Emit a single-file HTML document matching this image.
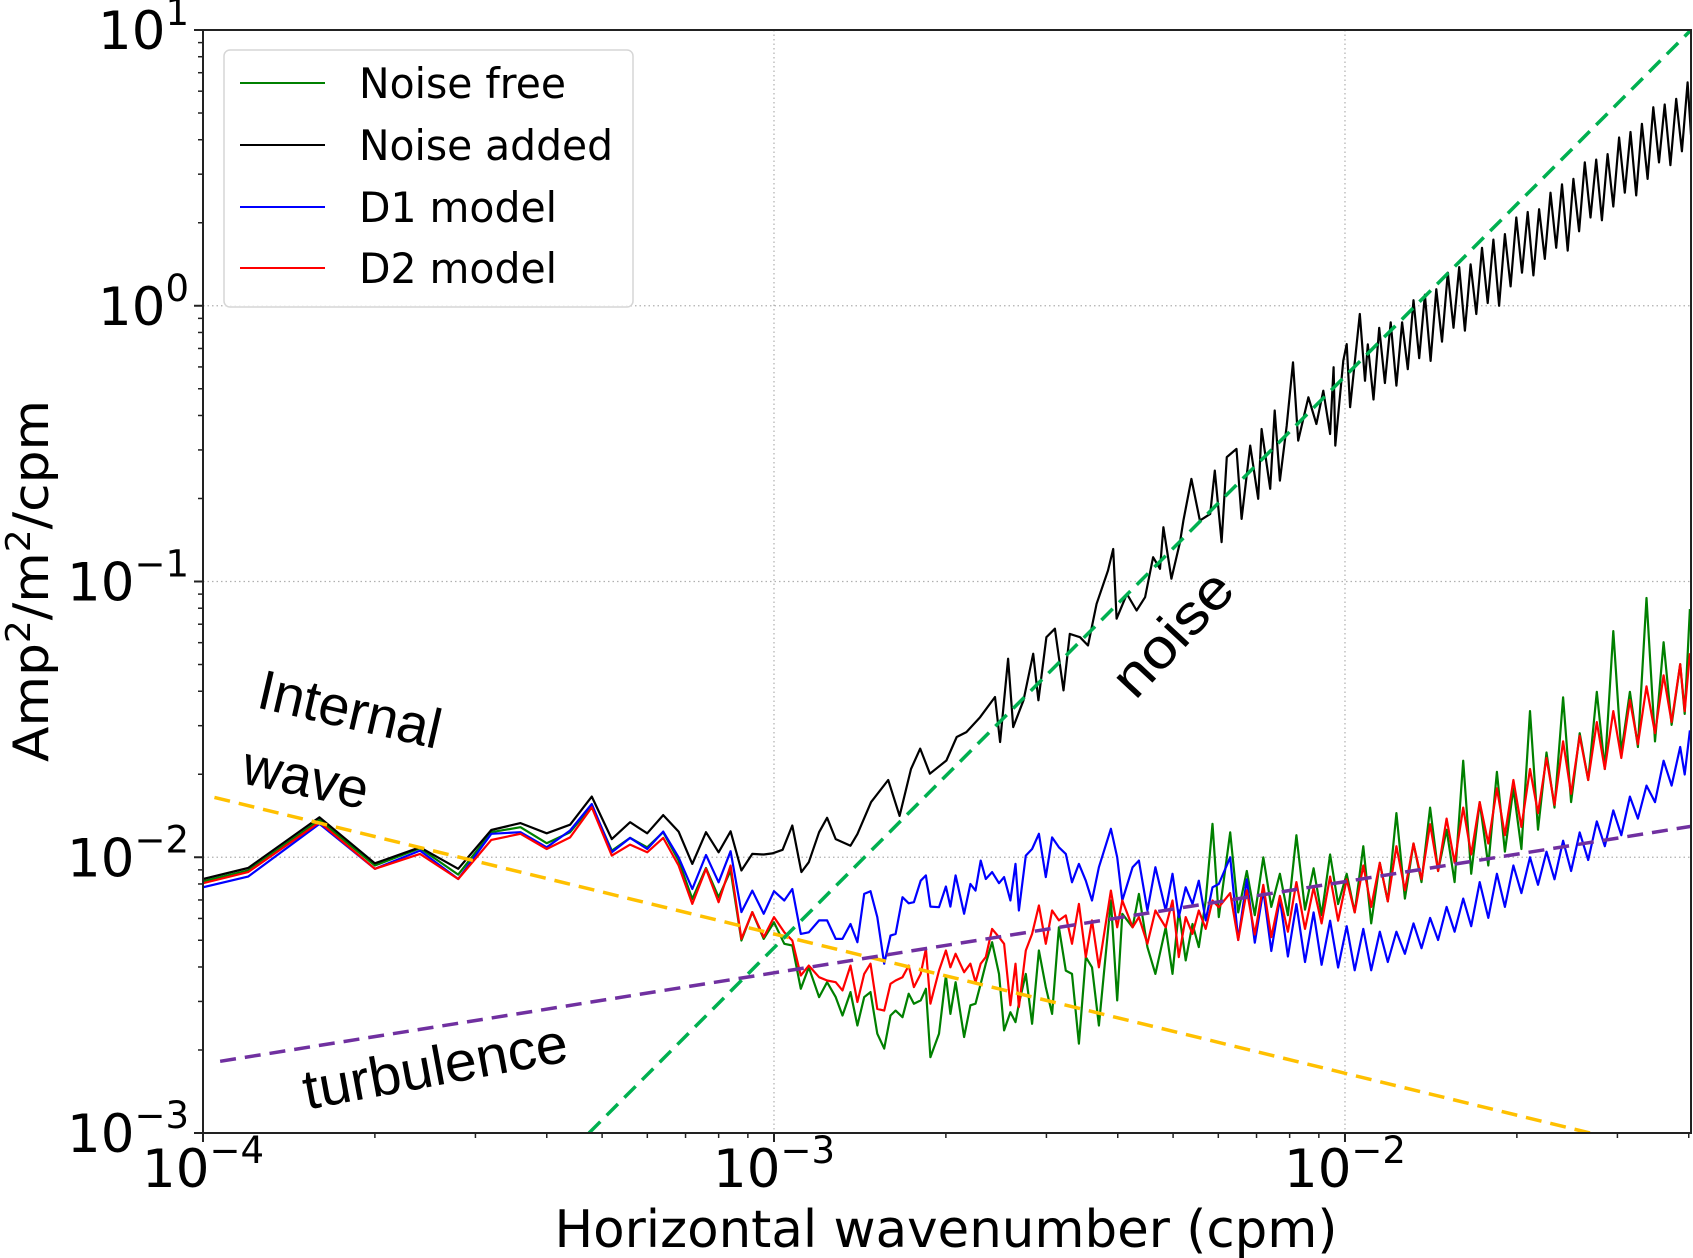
<!DOCTYPE html>
<html><head><meta charset="utf-8"><title>Wavenumber spectra</title>
<style>
html,body{margin:0;padding:0;background:#fff;}
svg{display:block;}
.dv{font-family:"DejaVu Sans","Liberation Sans",sans-serif;}
.ar{font-family:"Liberation Sans",Arial,sans-serif;}
</style></head>
<body>
<svg id="chart" width="1693" height="1258" viewBox="0 0 1693 1258" xmlns="http://www.w3.org/2000/svg">
<defs><clipPath id="plotclip"><rect x="203" y="30" width="1488" height="1103"/></clipPath></defs>
<rect x="0" y="0" width="1693" height="1258" fill="#fff"/>
<g id="grid"></g>
<g id="series" clip-path="url(#plotclip)"></g>
<g id="refs" clip-path="url(#plotclip)"></g>
<g id="axes"></g>
<g id="ticks"></g>

<text class="dv" transform="translate(48,581) rotate(-90)" text-anchor="middle" font-size="49" textLength="362" lengthAdjust="spacingAndGlyphs">Amp<tspan font-size="34" dy="-18">2</tspan><tspan dy="18">/m</tspan><tspan font-size="34" dy="-18">2</tspan><tspan dy="18">/cpm</tspan></text>
<text class="dv" x="946" y="1247" text-anchor="middle" font-size="52" textLength="783" lengthAdjust="spacingAndGlyphs">Horizontal wavenumber (cpm)</text>

<text class="ar" transform="translate(350,709) rotate(13)" text-anchor="middle" dominant-baseline="central" font-size="56" textLength="186" lengthAdjust="spacingAndGlyphs">Internal</text>
<text class="ar" transform="translate(306,777) rotate(12)" text-anchor="middle" dominant-baseline="central" font-size="56" textLength="127" lengthAdjust="spacingAndGlyphs">wave</text>
<text class="ar" transform="translate(435,1066) rotate(-10.5)" text-anchor="middle" dominant-baseline="central" font-size="56" textLength="268" lengthAdjust="spacingAndGlyphs">turbulence</text>
<text class="ar" transform="translate(1172,633) rotate(-47)" text-anchor="middle" dominant-baseline="central" font-size="56" textLength="150" lengthAdjust="spacingAndGlyphs">noise</text>

<g>
<rect x="224" y="50" width="409" height="257" rx="6" fill="#fff" fill-opacity="0.85" stroke="#d6d6d6" stroke-width="1.5"/>
<line x1="240" y1="83" x2="325" y2="83" stroke="#008000" stroke-width="2"/>
<text class="dv" x="359" y="98" font-size="42" textLength="207" lengthAdjust="spacingAndGlyphs">Noise free</text>
<line x1="240" y1="145" x2="325" y2="145" stroke="#000" stroke-width="2"/>
<text class="dv" x="359" y="160" font-size="42" textLength="254" lengthAdjust="spacingAndGlyphs">Noise added</text>
<line x1="240" y1="207" x2="325" y2="207" stroke="#0000ff" stroke-width="2"/>
<text class="dv" x="359" y="222" font-size="42" textLength="198" lengthAdjust="spacingAndGlyphs">D1 model</text>
<line x1="240" y1="268" x2="325" y2="268" stroke="#ff0000" stroke-width="2"/>
<text class="dv" x="359" y="283" font-size="42" textLength="198" lengthAdjust="spacingAndGlyphs">D2 model</text>
</g>
</svg>
<script>
// All values are log10 (wavenumber in cpm, amplitude in Amp^2/m^2/cpm)
const xTickExps = [-4, -3, -2];
const yTickExps = [1, 0, -1, -2, -3];
const xTickLabels = ["\u22124", "\u22123", "\u22122"];
const yTickLabels = ["1", "0", "\u22121", "\u22122", "\u22123"];

const kLow = [-4,-3.921,-3.796,-3.699,-3.620,-3.553,-3.495,-3.444,-3.398,-3.357,-3.319,-3.284,-3.252,-3.222,-3.194,-3.167,-3.143,-3.119,-3.097];
const kMid = [-3.076,-3.057,-3.038,-3.018,-3.0,-2.982,-2.968,-2.953,-2.939,-2.921,-2.907,-2.892,-2.880,-2.866,-2.854,-2.842,-2.831,-2.819,-2.807,-2.796,-2.787,-2.775,-2.764,-2.755,-2.743,-2.734,-2.726,-2.711,-2.699,-2.691,-2.682,-2.667,-2.656,-2.647,-2.638,-2.629,-2.618,-2.606,-2.597,-2.586,-2.577,-2.571,-2.559,-2.548,-2.536,-2.524,-2.513,-2.501,-2.489,-2.478,-2.466,-2.454,-2.443,-2.431,-2.410,-2.399,-2.390,-2.372,-2.361,-2.346,-2.332,-2.314,-2.302,-2.291,-2.279,-2.267,-2.256,-2.244,-2.232,-2.221];
const kHigh = [-2.201,-2.187,-2.172,-2.158,-2.143,-2.129,-2.114,-2.100,-2.085,-2.070,-2.055,-2.041,-2.026,-2.012,-1.997,-1.983,-1.968,-1.954,-1.939,-1.925,-1.910,-1.895,-1.880,-1.866,-1.851,-1.837,-1.822,-1.808,-1.793,-1.779,-1.764,-1.749,-1.734,-1.720,-1.705,-1.691,-1.676,-1.662,-1.647,-1.633,-1.618,-1.604,-1.589,-1.574,-1.559,-1.545,-1.530,-1.516,-1.501,-1.487,-1.472,-1.457,-1.442,-1.428,-1.413,-1.405,-1.396];

const greenLow = [-2.087,-2.048,-1.865,-2.030,-1.967,-2.063,-1.909,-1.891,-1.949,-1.909,-1.813,-1.976,-1.930,-1.964,-1.909,-2.012,-2.151,-2.039,-2.145];
const greenMid = [-2.048,-2.302,-2.199,-2.296,-2.236,-2.314,-2.320,-2.477,-2.399,-2.507,-2.453,-2.507,-2.574,-2.489,-2.610,-2.507,-2.489,-2.640,-2.694,-2.574,-2.556,-2.580,-2.495,-2.531,-2.519,-2.477,-2.725,-2.640,-2.429,-2.568,-2.453,-2.652,-2.537,-2.531,-2.459,-2.386,-2.308,-2.423,-2.628,-2.562,-2.598,-2.531,-2.423,-2.604,-2.338,-2.471,-2.568,-2.254,-2.411,-2.423,-2.676,-2.362,-2.399,-2.610,-2.157,-2.519,-2.205,-2.254,-2.133,-2.326,-2.423,-2.254,-2.423,-2.193,-2.374,-2.242,-2.326,-2.157,-1.879,-2.217];
const greenHigh = [-1.91,-2.20,-2.05,-2.21,-2.00,-2.18,-2.06,-2.21,-1.92,-2.19,-2.04,-2.21,-1.99,-2.17,-2.06,-2.20,-1.96,-2.24,-2.02,-2.16,-1.84,-2.15,-1.95,-2.09,-1.82,-2.05,-1.90,-2.09,-1.65,-2.06,-1.80,-2.03,-1.69,-1.98,-1.75,-1.97,-1.47,-1.90,-1.62,-1.82,-1.42,-1.80,-1.55,-1.72,-1.40,-1.68,-1.18,-1.62,-1.40,-1.60,-1.06,-1.58,-1.22,-1.52,-1.30,-1.48,-1.10];

const blueLow = [-2.109,-2.070,-1.879,-2.042,-1.976,-2.079,-1.915,-1.909,-1.964,-1.903,-1.807,-1.982,-1.930,-1.970,-1.907,-2.0,-2.115,-1.992,-2.091];
const blueMid = [-1.978,-2.199,-2.121,-2.205,-2.123,-2.157,-2.115,-2.278,-2.272,-2.229,-2.229,-2.296,-2.296,-2.242,-2.308,-2.133,-2.123,-2.217,-2.386,-2.284,-2.278,-2.145,-2.167,-2.163,-2.085,-2.066,-2.179,-2.181,-2.106,-2.179,-2.066,-2.205,-2.097,-2.121,-2.012,-2.079,-2.054,-2.094,-2.072,-2.157,-2.024,-2.193,-1.994,-1.970,-1.915,-2.072,-1.928,-1.964,-1.988,-2.091,-2.024,-2.085,-2.157,-2.036,-1.897,-2.0,-2.157,-2.036,-2.012,-2.193,-2.036,-2.193,-2.060,-2.217,-2.109,-2.169,-2.085,-2.229,-2.109,-2.097];
const blueHigh = [-2.00,-2.30,-2.08,-2.31,-2.12,-2.34,-2.15,-2.36,-2.17,-2.38,-2.20,-2.39,-2.23,-2.40,-2.25,-2.41,-2.26,-2.41,-2.27,-2.38,-2.27,-2.35,-2.24,-2.33,-2.22,-2.30,-2.18,-2.27,-2.15,-2.25,-2.09,-2.22,-2.06,-2.18,-2.03,-2.13,-2.00,-2.10,-1.98,-2.08,-1.94,-2.05,-1.91,-2.01,-1.87,-1.96,-1.83,-1.92,-1.78,-1.86,-1.74,-1.80,-1.65,-1.74,-1.60,-1.70,-1.54];

const redLow = [-2.094,-2.054,-1.873,-2.042,-1.988,-2.079,-1.937,-1.915,-1.970,-1.928,-1.819,-1.994,-1.954,-1.982,-1.930,-2.030,-2.169,-2.042,-2.163];
const redMid = [-2.030,-2.296,-2.199,-2.290,-2.217,-2.272,-2.302,-2.429,-2.393,-2.435,-2.447,-2.453,-2.483,-2.393,-2.525,-2.423,-2.386,-2.550,-2.556,-2.459,-2.447,-2.435,-2.393,-2.471,-2.423,-2.332,-2.531,-2.411,-2.338,-2.399,-2.350,-2.417,-2.386,-2.453,-2.386,-2.362,-2.260,-2.290,-2.314,-2.537,-2.386,-2.543,-2.338,-2.278,-2.175,-2.314,-2.193,-2.229,-2.211,-2.314,-2.169,-2.362,-2.229,-2.399,-2.121,-2.254,-2.157,-2.254,-2.217,-2.314,-2.193,-2.254,-2.157,-2.362,-2.217,-2.278,-2.193,-2.260,-2.157,-2.181];
const redHigh = [-2.13,-2.30,-2.12,-2.28,-2.10,-2.29,-2.14,-2.27,-2.09,-2.26,-2.11,-2.24,-2.07,-2.23,-2.08,-2.20,-2.03,-2.18,-2.02,-2.16,-1.96,-2.12,-1.95,-2.08,-1.88,-2.05,-1.86,-2.02,-1.82,-1.99,-1.80,-1.95,-1.75,-1.92,-1.72,-1.89,-1.68,-1.84,-1.64,-1.81,-1.58,-1.77,-1.56,-1.72,-1.51,-1.68,-1.47,-1.64,-1.43,-1.59,-1.38,-1.55,-1.34,-1.51,-1.30,-1.47,-1.26];

const blackLow = [-2.079,-2.039,-1.855,-2.022,-1.964,-2.042,-1.901,-1.876,-1.913,-1.882,-1.780,-1.934,-1.873,-1.913,-1.847,-1.907,-2.024,-1.909,-1.982];
const blackMidK = [-3.076,-3.057,-3.038,-3.018,-3.003,-2.985,-2.968,-2.952,-2.939,-2.921,-2.907,-2.892,-2.866,-2.854,-2.83,-2.80,-2.78,-2.76,-2.744,-2.727,-2.698,-2.680,-2.663,-2.639,-2.613,-2.604,-2.590,-2.581,-2.563,-2.546,-2.537,-2.523,-2.508,-2.493,-2.482,-2.464,-2.450,-2.435,-2.415,-2.406,-2.400,-2.382,-2.365,-2.350,-2.336,-2.324,-2.318,-2.304,-2.289,-2.283,-2.269,-2.254,-2.236,-2.228,-2.216,-2.207,-2.190,-2.181,-2.166,-2.152,-2.146,-2.131,-2.123,-2.114,-2.102,-2.091,-2.082,-2.064,-2.050,-2.038,-2.026,-2.020,-2.017,-2.003,-1.997,-1.991,-1.974,-1.965];
const blackMid = [-1.906,-2.048,-1.988,-1.990,-1.986,-1.973,-1.885,-2.054,-2.018,-1.909,-1.857,-1.934,-1.958,-1.916,-1.80,-1.72,-1.85,-1.68,-1.606,-1.697,-1.649,-1.564,-1.546,-1.492,-1.419,-1.582,-1.280,-1.528,-1.431,-1.262,-1.431,-1.202,-1.171,-1.395,-1.190,-1.202,-1.232,-1.081,-0.960,-0.882,-1.135,-1.045,-1.105,-1.057,-0.912,-0.954,-0.803,-0.990,-0.857,-0.779,-0.628,-0.779,-0.755,-0.598,-0.857,-0.549,-0.519,-0.773,-0.507,-0.700,-0.447,-0.664,-0.380,-0.634,-0.435,-0.205,-0.489,-0.332,-0.429,-0.308,-0.465,-0.223,-0.507,-0.199,-0.139,-0.368,-0.030,-0.272];
const blackHighK = [-1.96,-1.95,-1.94,-1.93,-1.92,-1.91,-1.90,-1.89,-1.88,-1.87,-1.86,-1.85,-1.84,-1.83,-1.82,-1.81,-1.80,-1.79,-1.78,-1.77,-1.76,-1.75,-1.74,-1.73,-1.72,-1.71,-1.70,-1.69,-1.68,-1.67,-1.66,-1.65,-1.64,-1.63,-1.62,-1.61,-1.60,-1.59,-1.58,-1.57,-1.56,-1.55,-1.54,-1.53,-1.52,-1.51,-1.50,-1.49,-1.48,-1.47,-1.46,-1.45,-1.44,-1.43,-1.42,-1.41,-1.40,-1.394];
const blackHigh = [-0.14,-0.34,-0.08,-0.28,-0.06,-0.29,-0.06,-0.23,0.02,-0.19,0.04,-0.20,0.06,-0.13,0.12,-0.08,0.14,-0.09,0.15,-0.03,0.21,0.01,0.24,0.00,0.26,0.07,0.32,0.12,0.34,0.11,0.35,0.17,0.41,0.21,0.44,0.20,0.46,0.27,0.52,0.32,0.53,0.31,0.55,0.36,0.61,0.41,0.63,0.40,0.66,0.46,0.72,0.52,0.73,0.51,0.75,0.56,0.81,0.62];

// reference power laws: [logk start, logk end], [logA start, logA end]
const noiseLineK = [-3.324, -1.394], noiseLineV = [-3.0, 1.0];
const iwLineK = [-3.98, -1.571], iwLineV = [-1.783, -3.0];
const turbLineK = [-3.97, -1.394], turbLineV = [-2.74, -1.888];

const NS = "http://www.w3.org/2000/svg";
const X0 = 203, X1 = 1691, Y0 = 30, Y1 = 1133;
const xmin = -4, xmax = -1.394, ymin = -3, ymax = 1;
function sx(l){ return X0 + (l - xmin) / (xmax - xmin) * (X1 - X0); }
function sy(v){ return Y0 + (ymax - v) / (ymax - ymin) * (Y1 - Y0); }
function mk(tag, attrs, parent){
  const e = document.createElementNS(NS, tag);
  for (const k in attrs) e.setAttribute(k, attrs[k]);
  parent.appendChild(e); return e;
}
const grid = document.getElementById('grid');
const series = document.getElementById('series');
const refs = document.getElementById('refs');
const axes = document.getElementById('axes');
const ticks = document.getElementById('ticks');

xTickExps.forEach(e => {
  const g = mk('line', {x1: sx(e), x2: sx(e), y1: Y0, y2: Y1, stroke: '#b0b0b0', 'stroke-width': 1.2, 'stroke-dasharray': '1.5 3'}, grid);
  
  
});
yTickExps.forEach(e => {
  const g = mk('line', {x1: X0, x2: X1, y1: sy(e), y2: sy(e), stroke: '#b0b0b0', 'stroke-width': 1.2, 'stroke-dasharray': '1.5 3'}, grid);
  
  
});

function drawSeries(ks, vs, color, name){
  let d = '';
  for (let i = 0; i < ks.length; i++) d += (i ? 'L' : 'M') + sx(ks[i]).toFixed(1) + ' ' + sy(vs[i]).toFixed(1);
  const p = mk('path', {d: d, fill: 'none', stroke: color, 'stroke-width': 2.2, 'stroke-linejoin': 'round'}, series);
  
  
}
drawSeries(kLow.concat(kMid, kHigh), greenLow.concat(greenMid, greenHigh), '#008000', 'noise-free-line');
drawSeries(kLow.concat(blackMidK, blackHighK), blackLow.concat(blackMid, blackHigh), '#000000', 'noise-added-line');
drawSeries(kLow.concat(kMid, kHigh), blueLow.concat(blueMid, blueHigh), '#0000ff', 'd1-model-line');
drawSeries(kLow.concat(kMid, kHigh), redLow.concat(redMid, redHigh), '#ff0000', 'd2-model-line');

function drawRef(ks, vs, color, name){
  const l = mk('line', {x1: sx(ks[0]), y1: sy(vs[0]), x2: sx(ks[1]), y2: sy(vs[1]), stroke: color, 'stroke-width': 3.5, 'stroke-dasharray': '16 9'}, refs);
  
  
}
drawRef(iwLineK, iwLineV, '#ffc000', 'internal-wave-fit');
drawRef(turbLineK, turbLineV, '#7030a0', 'turbulence-fit');
drawRef(noiseLineK, noiseLineV, '#00b050', 'noise-fit');

const fr = mk('rect', {x: X0, y: Y0, width: X1 - X0, height: Y1 - Y0, fill: 'none', stroke: '#222', 'stroke-width': 2}, axes);



for (let d = xmin; d < xmax; d++) {
  for (let m = 1; m <= 9; m++) {
    const l = d + Math.log10(m);
    if (l > xmax + 1e-6) break;
    const len = m === 1 ? 9 : 5;
    const t = mk('line', {x1: sx(l), x2: sx(l), y1: Y1, y2: Y1 + len, stroke: '#222', 'stroke-width': m === 1 ? 2 : 1.5}, ticks);
    
    
  }
}
for (let d = ymin; d <= ymax; d++) {
  for (let m = 1; m <= 9; m++) {
    const l = d + Math.log10(m);
    if (l > ymax + 1e-6) break;
    const len = m === 1 ? 9 : 5;
    const t = mk('line', {x1: X0 - len, x2: X0, y1: sy(l), y2: sy(l), stroke: '#222', 'stroke-width': m === 1 ? 2 : 1.5}, ticks);
    
    
  }
}
xTickExps.forEach((e, i) => {
  const t = mk('text', {x: sx(e), y: 1187, 'text-anchor': 'middle', 'font-size': 53, 'class': 'dv'}, ticks);
  
  
  t.appendChild(document.createTextNode('10'));
  const s = mk('tspan', {'font-size': 37, dy: -24}, t);
  s.textContent = xTickLabels[i];
});
yTickExps.forEach((e, i) => {
  const t = mk('text', {x: 189, y: sy(e) + 19, 'text-anchor': 'end', 'font-size': 53, 'class': 'dv'}, ticks);
  
  
  t.appendChild(document.createTextNode('10'));
  const s = mk('tspan', {'font-size': 37, dy: -24}, t);
  s.textContent = yTickLabels[i];
});
</script>
</body></html>
